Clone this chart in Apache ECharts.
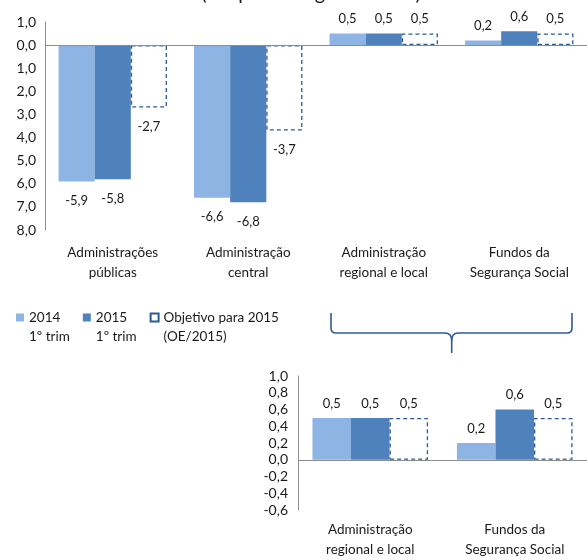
<!DOCTYPE html>
<html>
<head>
<meta charset="utf-8">
<script src="https://cdn.jsdelivr.net/npm/echarts@6/dist/echarts.min.js"></script>
<style>
  html, body { margin: 0; padding: 0; background: #fff; }
  #chart { width: 587px; height: 560px; }
</style>
</head>
<body>
<div id="chart"></div>
<script>
// Saldo orçamental por subsetor (em percentagem do PIB)
const categories = [
  'Administrações\npúblicas',
  'Administração\ncentral',
  'Administração\nregional e local',
  'Fundos da\nSegurança Social'
];
const seriesNames = ['2014\n1º trim', '2015\n1º trim', 'Objetivo para 2015\n(OE/2015)'];
const values2014 = [-5.9, -6.6, 0.5, 0.2];
const values2015 = [-5.8, -6.8, 0.5, 0.6];
const valuesTarget = [-2.7, -3.7, 0.5, 0.5];

// Detail panel: the two subsectors with small balances
const detailCategories = categories.slice(2);
const detail2014 = values2014.slice(2);
const detail2015 = values2015.slice(2);
const detailTarget = valuesTarget.slice(2);

const FONT = 'Lato';
const TEXT = '#1a1a1a';
const AXIS = '#8c8c8c';
const C2014 = '#8EB4E3';
const C2015 = '#4F81BD';
const CDASH = '#2E5B93';

const fmt = v => v.toFixed(1).replace('.', ',');
const dataLabel = {
  show: true,
  color: TEXT,
  fontFamily: FONT,
  fontSize: 13,
  formatter: p => fmt(p.value)
};

function barSeries(name, data, color, xi, dashed) {
  return {
    name: name,
    type: 'bar',
    xAxisIndex: xi,
    yAxisIndex: xi,
    data: data.map(v => ({
      value: v,
      label: v < 0 ? { position: 'bottom', distance: 13 } : { position: 'top', distance: 8 }
    })),
    barGap: '0%',
    barCategoryGap: '20%',
    label: dataLabel,
    itemStyle: dashed
      ? { color: '#ffffff', borderColor: CDASH, borderWidth: 1.3, borderType: [4, 3] }
      : { color: color },
    animation: false
  };
}

const zeroLine = {
  silent: true,
  symbol: 'none',
  label: { show: false },
  lineStyle: { color: AXIS, width: 1, type: 'solid' },
  data: [{ yAxis: 0 }],
  animation: false
};

const series = [
  barSeries(seriesNames[0], values2014, C2014, 0, false),
  barSeries(seriesNames[1], values2015, C2015, 0, false),
  barSeries(seriesNames[2], valuesTarget, null, 0, true),
  barSeries(seriesNames[0], detail2014, C2014, 1, false),
  barSeries(seriesNames[1], detail2015, C2015, 1, false),
  barSeries(seriesNames[2], detailTarget, null, 1, true)
];
series[0].markLine = zeroLine;
series[3].markLine = zeroLine;

const catAxis = (grid, data, margin) => ({
  type: 'category',
  gridIndex: grid,
  data: data,
  position: 'bottom',
  axisLine: { show: false, onZero: false },
  axisTick: { show: false },
  axisLabel: {
    color: TEXT, fontFamily: FONT, fontSize: 13.5, lineHeight: 20,
    margin: margin, interval: 0
  },
  splitLine: { show: false }
});

// Brace linking the two small subsectors to the detail panel
const braceStyle = { stroke: CDASH, lineWidth: 1.6, fill: 'none' };
const braceLine = (x1, y1, x2, y2) => ({ type: 'line', shape: { x1, y1, x2, y2 }, style: braceStyle });
const braceCurve = (x1, y1, cx, cy, x2, y2) => ({
  type: 'bezierCurve', shape: { x1, y1, cpx1: cx, cpy1: cy, x2, y2 }, style: braceStyle
});
const brace = [
  braceLine(331, 313, 331, 328),
  braceCurve(331, 328, 331, 333, 336, 333),
  braceLine(336, 333, 445, 333),
  braceCurve(445, 333, 451.7, 333, 451.7, 341),
  braceLine(451.7, 341, 451.7, 353),
  braceCurve(451.7, 341, 451.7, 333, 458, 333),
  braceLine(458, 333, 567, 333),
  braceCurve(567, 333, 572, 333, 572, 328),
  braceLine(572, 328, 572, 313)
];

const chart = echarts.init(document.getElementById('chart'));
chart.setOption({
  backgroundColor: '#ffffff',
  textStyle: { fontFamily: FONT },
  legend: {
    data: seriesNames,
    left: 11,
    top: 284,
    itemWidth: 8,
    itemHeight: 8,
    itemGap: 13,
    icon: 'rect',
    // leading blank line keeps the icon level with the first line of each name
    formatter: name => '\n' + name,
    textStyle: {
      color: TEXT, fontFamily: FONT, fontSize: 13.5, lineHeight: 19
    },
    selectedMode: false
  },
  grid: [
    { left: 45, right: 0, top: 22, bottom: 330 },
    { left: 298, right: -4, top: 376, bottom: 47 }
  ],
  xAxis: [catAxis(0, categories, 13), catAxis(1, detailCategories, 10)],
  yAxis: [
    {
      type: 'value', gridIndex: 0, min: -8, max: 1, interval: 1,
      axisLine: { show: true, lineStyle: { color: AXIS } },
      axisTick: { show: false },
      splitLine: { show: false },
      axisLabel: {
        color: TEXT, fontFamily: FONT, fontSize: 14, margin: 9,
        formatter: v => fmt(Math.abs(v))
      }
    },
    {
      type: 'value', gridIndex: 1, min: -0.6, max: 1, interval: 0.2,
      axisLine: { show: true, lineStyle: { color: AXIS } },
      axisTick: { show: false },
      splitLine: { show: false },
      axisLabel: {
        color: TEXT, fontFamily: FONT, fontSize: 14, margin: 10,
        formatter: v => fmt(v)
      }
    }
  ],
  graphic: [
    {
      type: 'text',
      x: 311,
      y: -6,
      style: {
        text: '(em percentagem do PIB)',
        align: 'center', verticalAlign: 'middle',
        fill: TEXT, fontFamily: FONT, fontSize: 20
      }
    }
  ].concat(brace),
  series: series
});
</script>
</body>
</html>
